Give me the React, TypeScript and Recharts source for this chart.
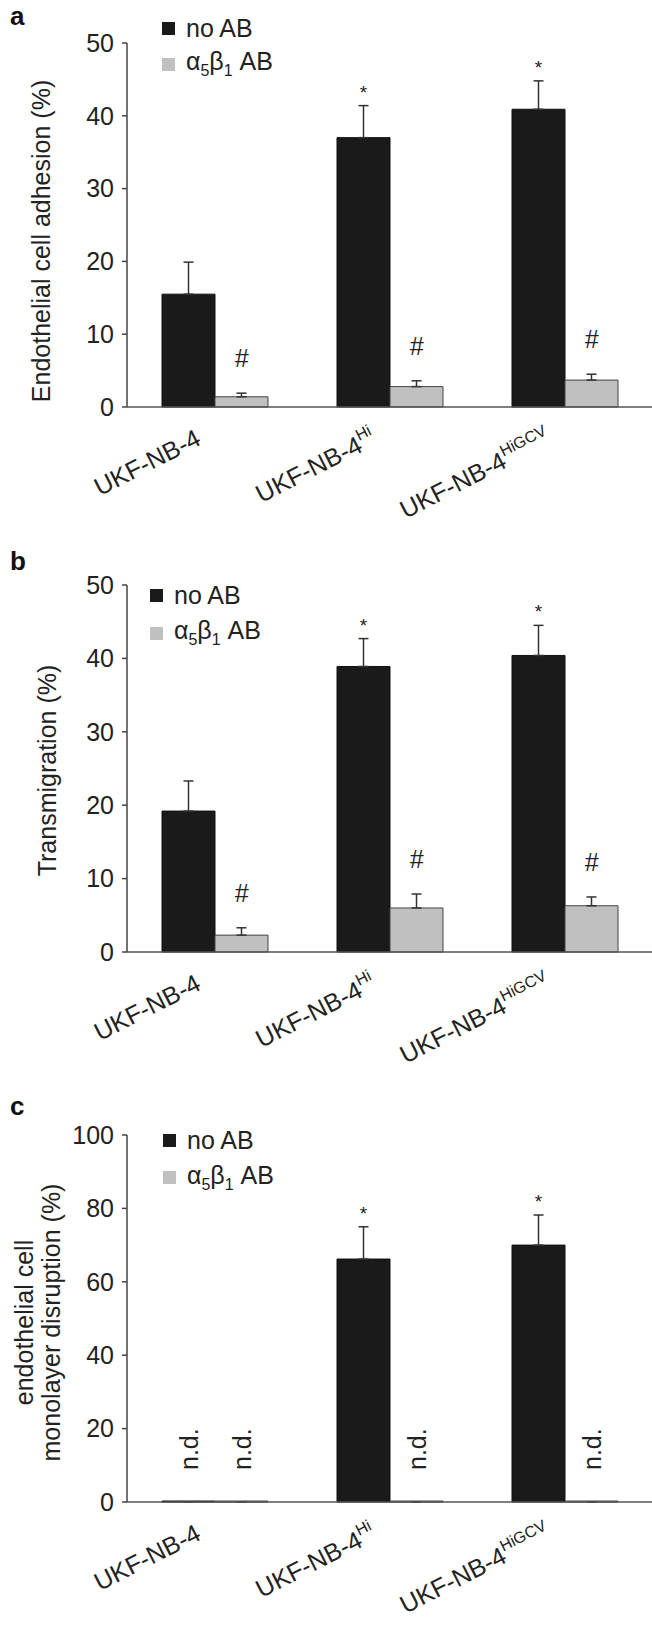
import React from 'react'
import { BarChart, Bar, XAxis, YAxis, ErrorBar, LabelList, Legend, Label } from 'recharts'

const FONT = 'Arial, "Liberation Sans", Helvetica, sans-serif'

// categories on the x axis, "^" marks the superscript part
const categories = ['UKF-NB-4', 'UKF-NB-4^Hi', 'UKF-NB-4^HiGCV']
const seriesNames = ['no AB', 'α5β1 AB']

// a - endothelial cell adhesion (%)
const adhesionNoAB = [15.5, 37.0, 40.9]
const adhesionNoABErr = [4.4, 4.4, 3.9]
const adhesionAB = [1.4, 2.8, 3.7]
const adhesionABErr = [0.5, 0.8, 0.8]

// b - transmigration (%)
const transNoAB = [19.2, 38.9, 40.4]
const transNoABErr = [4.1, 3.8, 4.1]
const transAB = [2.3, 6.0, 6.3]
const transABErr = [1.0, 1.9, 1.2]

// c - monolayer disruption (%), n.d. drawn as 0
const disruptNoAB = [0, 66.2, 70.0]
const disruptNoABErr = [0, 8.8, 8.2]
const disruptAB = [0, 0, 0]
const disruptABErr = [0, 0, 0]

// marks above the bars
const marksNoAB = ['', '*', '*']
const marksAB = ['#', '#', '#']
const marksNoABc = ['n.d.', '*', '*']
const marksABc = ['n.d.', 'n.d.', 'n.d.']

const ticks50 = [0, 10, 20, 30, 40, 50]
const ticks100 = [0, 20, 40, 60, 80, 100]

const BLACK = '#1a1a1a'
const GREY = '#c0c0c0'

const formatName = (name: string) => {
  if (name === seriesNames[1]) {
    return (
      <>
        α<sub style={{ fontSize: 16 }}>5</sub>β<sub style={{ fontSize: 16 }}>1</sub> AB
      </>
    )
  }
  return name
}

const renderLegend = (rowH: number) => (props: any) => (
  <div style={{ fontFamily: FONT, fontSize: 25, color: '#222' }}>
    {(props.payload || []).map((p: any, i: number) => (
      <div key={i} style={{ display: 'flex', alignItems: 'center', height: rowH, lineHeight: 1 }}>
        <span style={{ display: 'inline-block', width: 13, height: 13, background: p.color, marginRight: 11 }} />
        <span>{formatName(p.value)}</span>
      </div>
    ))}
  </div>
)

const CatTick = (props: any) => {
  const { x, y, payload } = props
  const [base, sup] = String(payload.value).split('^')
  return (
    <g transform={`translate(${x - 12},${y + 37}) rotate(-27)`}>
      <text textAnchor="end" fontSize={25} fill="#222" fontFamily={FONT}>
        {base}
        {sup && (
          <tspan dy={-11} fontSize={16}>
            {sup}
          </tspan>
        )}
      </text>
    </g>
  )
}

const makeYLabel = (lines: string[], xs: number[], shift: number) => (props: any) => {
  const vb = props.viewBox || {}
  const cy = vb.y + vb.height / 2 + shift
  return (
    <g>
      {lines.map((l, i) => (
        <text
          key={i}
          transform={`translate(${xs[i]},${cy}) rotate(-90)`}
          textAnchor="middle"
          dominantBaseline="central"
          fontSize={25}
          fill="#222"
          fontFamily={FONT}
        >
          {l}
        </text>
      ))}
    </g>
  )
}

// label content: value of LabelList is the category, so the index is stable
const makeMark = (marks: string[], vals: number[], errs: number[]) => (props: any) => {
  const { x, y, width, height, value } = props
  const index = categories.indexOf(String(value))
  const m = marks[index]
  if (!m) return null
  const cx = Number(x) + Number(width) / 2
  const v = vals[index]
  const top = v > 0 ? Number(y) - errs[index] * (Number(height) / v) : Number(y) + Number(height)
  if (m === '*') {
    return (
      <text x={cx} y={top - 7} textAnchor="middle" fontSize={19} fill="#222" fontFamily={FONT}>
        *
      </text>
    )
  }
  if (m === '#') {
    return (
      <text x={cx} y={top - 26} textAnchor="middle" fontSize={25} fontStyle="italic" fill="#222" fontFamily={FONT}>
        #
      </text>
    )
  }
  return (
    <text transform={`translate(${cx + 9},${top - 32}) rotate(-90)`} fontSize={25} fill="#222" fontFamily={FONT}>
      {m}
    </text>
  )
}

interface PanelProps {
  letter: string
  top: number
  height: number
  marginTop: number
  xAxisHeight: number
  yMax: number
  yTicks: number[]
  yLabel: string[]
  yLabelX: number[]
  yLabelShift: number
  legendLeft: number
  legendTop: number
  legendRow: number
  noAB: number[]
  noABErr: number[]
  ab: number[]
  abErr: number[]
  noABMarks: string[]
  abMarks: string[]
}

function Panel(p: PanelProps) {
  const rows = categories.map((c, i) => ({
    cat: c,
    noAB: p.noAB[i],
    noABErr: [0, p.noABErr[i]],
    ab: p.ab[i],
    abErr: [0, p.abErr[i]],
  }))

  return (
    <div style={{ position: 'absolute', left: 0, top: p.top, width: 652, height: p.height }}>
      <div
        style={{
          position: 'absolute',
          left: 10,
          top: 3,
          fontFamily: FONT,
          fontWeight: 'bold',
          fontSize: 26,
          lineHeight: '26px',
          color: '#111',
        }}
      >
        {p.letter}
      </div>
      <BarChart
        width={652}
        height={p.height}
        data={rows}
        margin={{ top: p.marginTop, right: 0, bottom: 0, left: 0 }}
        barGap={0}
      >
        <XAxis
          dataKey="cat"
          height={p.xAxisHeight}
          tickLine={false}
          tickSize={0}
          tickMargin={0}
          interval={0}
          axisLine={{ stroke: '#555', strokeWidth: 1.5 }}
          tick={<CatTick />}
        />
        <YAxis
          width={127}
          domain={[0, p.yMax]}
          ticks={p.yTicks}
          interval={0}
          tickSize={5}
          tickMargin={8}
          axisLine={{ stroke: '#444', strokeWidth: 1.5 }}
          tickLine={{ stroke: '#444', strokeWidth: 1.5 }}
          tick={{ fontSize: 25, fill: '#222', fontFamily: FONT }}
        >
          <Label content={makeYLabel(p.yLabel, p.yLabelX, p.yLabelShift)} />
        </YAxis>
        <Legend
          layout="horizontal"
          verticalAlign="middle"
          align="center"
          content={renderLegend(p.legendRow)}
          wrapperStyle={{ left: p.legendLeft, top: p.legendTop, width: 220, height: 80 }}
        />
        <Bar
          dataKey="noAB"
          name={seriesNames[0]}
          fill={BLACK}
          stroke="#111"
          barSize={53}
          minPointSize={1}
          isAnimationActive={false}
        >
          <ErrorBar dataKey="noABErr" width={5} stroke="#333" strokeWidth={1.5} direction="y" />
          <LabelList dataKey="cat" content={makeMark(p.noABMarks, p.noAB, p.noABErr)} />
        </Bar>
        <Bar
          dataKey="ab"
          name={seriesNames[1]}
          fill={GREY}
          stroke="#444"
          barSize={53}
          minPointSize={1}
          isAnimationActive={false}
        >
          <ErrorBar dataKey="abErr" width={5} stroke="#333" strokeWidth={1.5} direction="y" />
          <LabelList dataKey="cat" content={makeMark(p.abMarks, p.ab, p.abErr)} />
        </Bar>
      </BarChart>
    </div>
  )
}

export default function App() {
  return (
    <div style={{ position: 'absolute', left: 0, top: 0, width: 652, height: 1634, background: '#fff', overflow: 'hidden' }}>
      <Panel
        letter="a"
        top={0}
        height={540}
        marginTop={43}
        xAxisHeight={133}
        yMax={50}
        yTicks={ticks50}
        yLabel={['Endothelial cell adhesion (%)']}
        yLabelX={[41]}
        yLabelShift={16}
        legendLeft={162}
        legendTop={10}
        legendRow={36}
        noAB={adhesionNoAB}
        noABErr={adhesionNoABErr}
        ab={adhesionAB}
        abErr={adhesionABErr}
        noABMarks={marksNoAB}
        abMarks={marksAB}
      />
      <Panel
        letter="b"
        top={545}
        height={540}
        marginTop={40}
        xAxisHeight={133}
        yMax={50}
        yTicks={ticks50}
        yLabel={['Transmigration (%)']}
        yLabelX={[47]}
        yLabelShift={2}
        legendLeft={150}
        legendTop={31}
        legendRow={38}
        noAB={transNoAB}
        noABErr={transNoABErr}
        ab={transAB}
        abErr={transABErr}
        noABMarks={marksNoAB}
        abMarks={marksAB}
      />
      <Panel
        letter="c"
        top={1090}
        height={544}
        marginTop={45}
        xAxisHeight={132}
        yMax={100}
        yTicks={ticks100}
        yLabel={['endothelial cell', 'monolayer disruption (%)']}
        yLabelX={[24, 51]}
        yLabelShift={4}
        legendLeft={163}
        legendTop={32}
        legendRow={37}
        noAB={disruptNoAB}
        noABErr={disruptNoABErr}
        ab={disruptAB}
        abErr={disruptABErr}
        noABMarks={marksNoABc}
        abMarks={marksABc}
      />
    </div>
  )
}
